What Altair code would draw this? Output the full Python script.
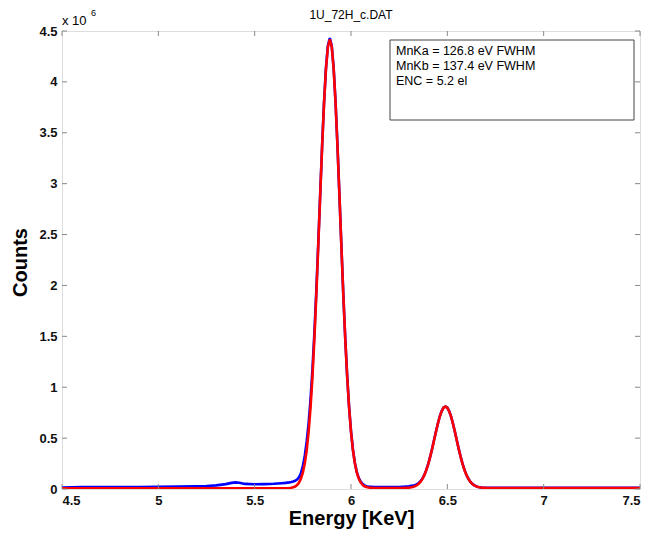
import altair as alt
import pandas as pd

# ---- data (counts in units of 1e6) ----
energy = [4.50, 4.60, 4.70, 4.80, 4.90, 5.00, 5.10, 5.20, 5.25, 5.30, 5.35, 5.38, 5.40, 5.42, 5.45, 5.50, 5.55, 5.60, 5.64, 5.66,
          5.68, 5.69,
          5.70, 5.71, 5.72, 5.73, 5.74, 5.75, 5.76, 5.77, 5.78, 5.79, 5.80, 5.81, 5.82, 5.83, 5.84, 5.85, 5.86, 5.87, 5.88, 5.89,
          5.90, 5.91, 5.92, 5.93, 5.94, 5.95, 5.96, 5.97, 5.98, 5.99, 6.00, 6.01, 6.02, 6.03, 6.04, 6.05, 6.06, 6.07, 6.08, 6.09, 6.10, 6.11, 6.12,
          6.14, 6.16, 6.20, 6.25, 6.28, 6.30, 6.32,
          6.33, 6.34, 6.35, 6.36, 6.37, 6.38, 6.39, 6.40, 6.41, 6.42, 6.43, 6.44, 6.45, 6.46, 6.47, 6.48, 6.49,
          6.50, 6.51, 6.52, 6.53, 6.54, 6.55, 6.56, 6.57, 6.58, 6.59, 6.60, 6.61, 6.62, 6.63, 6.64, 6.65, 6.66,
          6.68, 6.70, 6.80, 6.90, 7.00, 7.10, 7.20, 7.30, 7.40, 7.50]

measured = [0.015, 0.018, 0.020, 0.020, 0.020, 0.021, 0.023, 0.027, 0.030, 0.036, 0.048, 0.060, 0.065, 0.062, 0.050, 0.046, 0.048, 0.052, 0.057, 0.060,
            0.065, 0.069,
            0.074, 0.081, 0.093, 0.115, 0.155, 0.225, 0.325, 0.465, 0.645, 0.880, 1.175, 1.535, 1.950, 2.410, 2.895, 3.370, 3.795, 4.135, 4.355, 4.430,
            4.355, 4.135, 3.795, 3.366, 2.886, 2.393, 1.917, 1.486, 1.114, 0.808, 0.568, 0.388, 0.258, 0.169, 0.110, 0.073, 0.050, 0.036, 0.028, 0.024, 0.022, 0.021, 0.020,
            0.019, 0.018, 0.018, 0.020, 0.023, 0.027, 0.033,
            0.038, 0.045, 0.056, 0.074, 0.100, 0.136, 0.183, 0.241, 0.310, 0.387, 0.471, 0.556, 0.636, 0.708, 0.763, 0.799, 0.811,
            0.799, 0.763, 0.708, 0.636, 0.556, 0.471, 0.387, 0.310, 0.241, 0.183, 0.135, 0.098, 0.070, 0.050, 0.036, 0.027, 0.020,
            0.014, 0.012, 0.011, 0.011, 0.011, 0.011, 0.011, 0.011, 0.011, 0.011]

fitted = [0.007, 0.007, 0.007, 0.007, 0.007, 0.007, 0.007, 0.007, 0.007, 0.007, 0.007, 0.007, 0.007, 0.007, 0.007, 0.007, 0.007, 0.007, 0.007, 0.007,
          0.009, 0.012,
          0.016, 0.024, 0.038, 0.062, 0.100, 0.160, 0.250, 0.380, 0.561, 0.801, 1.107, 1.479, 1.910, 2.386, 2.879, 3.359, 3.786, 4.125, 4.342, 4.417,
          4.345, 4.128, 3.789, 3.362, 2.882, 2.389, 1.913, 1.482, 1.110, 0.804, 0.564, 0.383, 0.253, 0.163, 0.103, 0.065, 0.041, 0.027, 0.019, 0.015, 0.012, 0.011, 0.010,
          0.010, 0.010, 0.010, 0.010, 0.011, 0.013, 0.019,
          0.026, 0.035, 0.049, 0.069, 0.097, 0.134, 0.182, 0.240, 0.309, 0.386, 0.470, 0.555, 0.635, 0.707, 0.762, 0.798, 0.810,
          0.798, 0.762, 0.707, 0.635, 0.555, 0.470, 0.386, 0.309, 0.240, 0.182, 0.134, 0.097, 0.069, 0.049, 0.035, 0.026, 0.019,
          0.013, 0.011, 0.010, 0.010, 0.010, 0.010, 0.010, 0.010, 0.010, 0.010]

assert len(energy) == len(measured) == len(fitted)

x_ticks = [4.5, 5.0, 5.5, 6.0, 6.5, 7.0, 7.5]
y_ticks = [0, 0.5, 1, 1.5, 2, 2.5, 3, 3.5, 4, 4.5]

title_text = "1U_72H_c.DAT"
info_text = "MnKa = 126.8 eV FWHM\nMnKb = 137.4 eV FWHM\nENC = 5.2 el"

W, H = 578, 458
FONT = "Liberation Sans"
FRAME = "#888888"

df = pd.DataFrame({"energy": energy, "measured": measured, "fitted": fitted})
xt = pd.DataFrame({"v": x_ticks})
yt = pd.DataFrame({"v": y_ticks})

xscale = alt.Scale(domain=[4.5, 7.5], nice=False, zero=False)
yscale = alt.Scale(domain=[0, 4.5], nice=False)

xaxis = alt.Axis(values=x_ticks, format="~g", grid=False, ticks=False, domain=False,
                 labelFont=FONT, labelFontSize=13, labelFontWeight="bold", labelColor="#111111", labelPadding=5,
                 title="Energy [KeV]", titleFont=FONT, titleFontSize=20, titleFontWeight="bold",
                 titleColor="black", titleX=W / 2, titleY=29, titleBaseline="middle", titleAlign="center")
yaxis = alt.Axis(values=y_ticks, format="~g", grid=False, ticks=False, domain=False,
                 labelFont=FONT, labelFontSize=13, labelFontWeight="bold", labelColor="#111111", labelPadding=5,
                 title="Counts", titleFont=FONT, titleFontSize=20, titleFontWeight="bold",
                 titleColor="black", titleX=-42, titleY=231, titleAngle=-90,
                 titleBaseline="middle", titleAlign="center")

blue = alt.Chart(df).mark_line(color="#0000ff", strokeWidth=2.6, clip=True).encode(
    x=alt.X("energy:Q", scale=xscale, axis=xaxis),
    y=alt.Y("measured:Q", scale=yscale, axis=yaxis),
)
red = alt.Chart(df).mark_line(color="#ff0000", strokeWidth=2.6, clip=True).encode(
    x=alt.X("energy:Q", scale=xscale),
    y=alt.Y("fitted:Q", scale=yscale),
)

tick_style = dict(color=FRAME, strokeWidth=1)
bot_ticks = alt.Chart(xt).mark_rule(**tick_style).encode(
    x=alt.X("v:Q", scale=xscale), y=alt.value(H), y2=alt.value(H - 5))
top_ticks = alt.Chart(xt).mark_rule(**tick_style).encode(
    x=alt.X("v:Q", scale=xscale), y=alt.value(0), y2=alt.value(5))
left_ticks = alt.Chart(yt).mark_rule(**tick_style).encode(
    y=alt.Y("v:Q", scale=yscale), x=alt.value(0), x2=alt.value(5))
right_ticks = alt.Chart(yt).mark_rule(**tick_style).encode(
    y=alt.Y("v:Q", scale=yscale), x=alt.value(W), x2=alt.value(W - 5))

one = pd.DataFrame({"t": [info_text]})
box = alt.Chart(one).mark_rect(fill="white", stroke="#444444", strokeWidth=1).encode(
    x=alt.value(328), x2=alt.value(572), y=alt.value(9), y2=alt.value(89))
info = alt.Chart(one).mark_text(align="left", baseline="top", lineBreak="\n", lineHeight=15,
                                font=FONT, fontSize=12.5, color="black").encode(
    text="t:N", x=alt.value(334), y=alt.value(14))

title = alt.Chart(pd.DataFrame({"t": [title_text]})).mark_text(
    align="center", baseline="middle", font=FONT, fontSize=12, color="black").encode(
    text="t:N", x=alt.value(W / 2), y=alt.value(-16))

exp_base = alt.Chart(pd.DataFrame({"t": ["x 10"]})).mark_text(
    align="left", baseline="middle", font=FONT, fontSize=13, color="black").encode(
    text="t:N", x=alt.value(0), y=alt.value(-10))
exp_sup = alt.Chart(pd.DataFrame({"t": ["6"]})).mark_text(
    align="left", baseline="middle", font=FONT, fontSize=9, color="black").encode(
    text="t:N", x=alt.value(29), y=alt.value(-18))

chart = alt.layer(
    blue, red, bot_ticks, top_ticks, left_ticks, right_ticks, box, info, title, exp_base, exp_sup
).properties(
    width=W, height=H,
    autosize=alt.AutoSizeParams(type="none"),
    padding={"left": 54, "top": 23, "right": 9, "bottom": 40},
).configure_view(
    stroke=FRAME, strokeWidth=1, fill="white"
).configure(background="white")

chart.save("out.html", embed_options={"renderer": "svg", "actions": False})
